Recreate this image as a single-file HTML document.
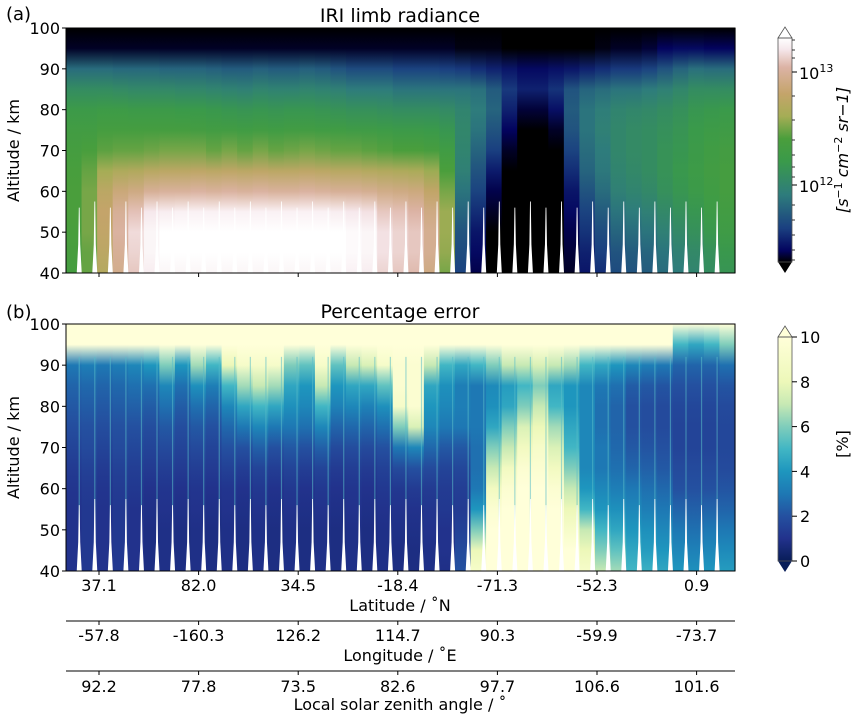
<!DOCTYPE html>
<html><head><meta charset="utf-8"><style>
body{margin:0;background:#fff;font-family:"Liberation Sans","DejaVu Sans",sans-serif;}
svg text{font-family:"DejaVu Sans","Liberation Sans",sans-serif;fill:#000;}
</style></head><body>
<svg id="fig" width="859" height="721" viewBox="0 0 859 721" xmlns="http://www.w3.org/2000/svg">
<defs id="defs"></defs>
<g id="pa"></g>
<g id="pb"></g>
<g id="ax"></g>
</svg>
<script>
const NS="http://www.w3.org/2000/svg";
const altStops=[40,45,50,55,60,65,70,75,80,85,90,95,100];
const latLabels=["37.1","82.0","34.5","-18.4","-71.3","-52.3","0.9"];
const lonLabels=["-57.8","-160.3","126.2","114.7","90.3","-59.9","-73.7"];
const szaLabels=["92.2","77.8","73.5","82.6","97.7","106.6","101.6"];
const yTicks=[40,50,60,70,80,90,100];
const errTicks=[0,2,4,6,8,10];
const radiance=[
[.52,.53,.54,.55,.55,.54,.52,.5,.46,.38,.26,.02,0],
[.58,.58,.6,.6,.6,.58,.54,.5,.46,.38,.26,.02,0],
[.7,.72,.74,.75,.72,.65,.57,.52,.47,.38,.26,.02,0],
[.82,.84,.86,.84,.78,.68,.58,.52,.47,.37,.25,.02,0],
[.9,.92,.93,.89,.8,.69,.58,.52,.46,.36,.25,.02,0],
[.96,.98,.98,.95,.84,.71,.59,.52,.46,.36,.25,.02,0],
[.98,1,1,.96,.85,.72,.6,.52,.46,.36,.24,.02,0],
[.98,1,1,.97,.85,.72,.6,.52,.45,.35,.24,.02,0],
[.98,1,1,.97,.86,.73,.6,.51,.45,.35,.24,.02,0],
[.98,1,1,.97,.85,.72,.58,.5,.44,.34,.23,.02,0],
[.98,1,1,.97,.86,.73,.6,.5,.43,.33,.22,.02,0],
[.98,1,1,.97,.85,.72,.58,.49,.42,.32,.22,.02,0],
[.98,1,1,.97,.86,.73,.6,.5,.43,.34,.23,.02,0],
[.98,1,1,.97,.85,.72,.58,.49,.42,.33,.22,.02,0],
[.98,1,1,.97,.85,.72,.59,.5,.43,.33,.22,.02,0],
[.98,1,1,.97,.86,.73,.6,.5,.43,.34,.23,.02,0],
[.98,1,1,.97,.85,.72,.59,.49,.42,.33,.22,.02,0],
[.98,1,1,.96,.84,.71,.58,.49,.41,.32,.2,.02,0],
[.97,.99,.99,.95,.84,.71,.58,.48,.4,.3,.18,.02,0],
[.96,.98,.98,.94,.83,.7,.57,.48,.4,.3,.18,.02,0],
[.92,.94,.94,.9,.81,.69,.56,.47,.39,.3,.18,.02,0],
[.9,.92,.92,.89,.8,.68,.55,.46,.38,.28,.16,.02,0],
[.88,.9,.9,.87,.79,.67,.55,.46,.38,.28,.16,.02,0],
[.8,.83,.83,.8,.74,.64,.53,.45,.38,.28,.16,.02,0],
[.6,.63,.64,.64,.6,.55,.49,.43,.37,.28,.15,.02,0],
[.16,.18,.2,.24,.28,.32,.34,.35,.34,.28,.14,.01,0],
[.04,.06,.08,.12,.16,.2,.24,.28,.3,.27,.12,.01,0],
[0,0,0,.02,.04,.09,.15,.2,.24,.22,.1,.01,0],
[0,0,0,0,0,0,.02,.05,.1,.14,.08,0,0],
[0,0,0,0,0,0,0,0,.03,.1,.06,0,0],
[0,0,0,0,0,0,0,0,.03,.1,.06,0,0],
[0,0,0,0,0,0,0,.02,.07,.13,.07,0,0],
[.02,.03,.04,.06,.08,.12,.16,.2,.22,.2,.08,0,0],
[.08,.1,.13,.16,.2,.24,.26,.28,.28,.24,.1,0,0],
[.12,.15,.18,.22,.26,.29,.3,.32,.31,.26,.12,.01,0],
[.18,.2,.24,.28,.32,.34,.35,.35,.34,.28,.14,.02,0],
[.2,.22,.26,.3,.34,.36,.37,.37,.35,.28,.14,.02,0],
[.22,.24,.28,.32,.36,.38,.38,.38,.36,.3,.16,.03,0],
[.26,.28,.32,.36,.4,.41,.41,.4,.38,.32,.2,.05,0],
[.3,.32,.36,.4,.43,.44,.43,.42,.4,.35,.24,.06,0],
[.34,.36,.4,.43,.46,.47,.46,.45,.43,.38,.27,.06,0],
[.38,.4,.44,.47,.49,.5,.49,.47,.44,.38,.26,.05,0],
[.42,.44,.48,.5,.52,.52,.51,.48,.45,.38,.26,.05,0]];
const pctError=[
[1,1,1,1,1.1,1.3,1.6,1.9,2.2,2.5,3,10,10],
[1.2,1.2,1.2,1.2,1.3,1.5,1.8,2,2.3,2.6,3.2,10,10],
[1,1,1,1,1.1,1.3,1.6,1.9,2.2,2.5,3,10,10],
[1.2,1.2,1.2,1.2,1.3,1.5,1.8,2,2.3,2.6,3.2,10,10],
[1,1,1,1,1.2,1.4,1.7,2,2.4,2.8,3.5,10,10],
[.8,.8,.8,.9,1,1.3,1.6,1.9,2.3,2.8,4,10,10],
[.9,.9,.9,1,1.1,1.4,1.8,2.2,2.8,3.5,6,10,10],
[.8,.8,.8,.9,1,1.3,1.6,1.9,2.3,2.8,4,10,10],
[.9,.9,.9,1,1.1,1.4,1.8,2.2,2.8,3.8,6.5,10,10],
[.8,.8,.8,.9,1,1.3,1.6,2,2.5,3.2,5,10,10],
[.9,.9,.9,1,1.1,1.5,2,2.6,3.5,5,8,10,10],
[.8,.8,.8,.9,1,1.4,2,3,4.5,6.5,9,10,10],
[.9,.9,.9,1,1.2,1.6,2.4,3.5,5,7,9,10,10],
[.8,.8,.8,.9,1,1.4,2,3,4.5,6.5,9,10,10],
[.9,.9,.9,1,1.2,1.6,2.2,3,3.8,4.5,6,10,10],
[.8,.8,.8,.9,1,1.4,2,2.8,3.5,4,5.5,10,10],
[.9,.9,.9,1,1.2,1.6,2.4,3.5,5,7,9,10,10],
[.8,.8,.8,.9,1,1.3,1.8,2.5,3.3,4,5.5,10,10],
[.9,.9,.9,1,1.1,1.4,1.9,2.6,3.5,4.5,7,10,10],
[.8,.8,.8,.9,1,1.3,1.8,2.5,3.3,4.5,7.5,10,10],
[.9,.9,.9,1,1.2,1.5,2,2.8,3.8,5.5,9,10,10],
[.8,.8,.9,1,1.2,1.8,3,6,9,9.5,9.5,10,10],
[.8,.8,.9,1,1.3,2,3.5,7.5,9.5,9.5,9.5,10,10],
[.9,.9,1,1.1,1.3,1.8,2.6,3.5,4,4.5,7,10,10],
[.9,1,1,1.2,1.3,1.6,2.2,3,3.5,3.8,5,10,10],
[2,1.8,1.5,1.3,1.4,1.7,2.2,3,3.2,3.2,4.5,10,10],
[9,8,6,4,3,2.8,2.8,3,3,3,5,10,10],
[10,10,10,9.5,8.5,7,6,4.5,3.8,3.6,6,10,10],
[10,10,10,10,9.5,8.5,7,6,4.5,4.2,7,10,10],
[10,10,10,10,10,9.5,8.5,7.5,6,5,7,10,10],
[10,10,10,10,10,9.5,9,8,7,6,7.5,10,10],
[10,10,10,10,9.5,8.5,7.5,6.5,5,4.5,7,10,10],
[10,10,9,8,7,6,5,4.5,4,4,6.5,10,10],
[9,8,7,5,4,3.5,3.5,3.5,3.5,3.5,5,10,10],
[7,6,5,4,3.5,3,3,2.8,2.8,3,4.5,10,10],
[6.5,5.5,4.5,3.8,3.2,2.8,2.6,2.5,2.5,2.8,4,10,10],
[5,4.5,4,3.5,3,2.5,2.2,2,2,2.3,3.5,10,10],
[4.8,4.2,3.8,3.2,2.8,2.4,2.1,1.9,1.9,2.2,3.2,10,10],
[4.5,4,3.5,3,2.6,2.2,2,1.8,1.8,2.1,3,10,10],
[4,3.5,3,2.5,2,1.8,1.6,1.6,1.7,2,2.5,5,10],
[3.8,3.3,2.8,2.4,2,1.8,1.6,1.6,1.7,2,2.5,4.5,10],
[4,3.5,3,2.5,2,1.8,1.6,1.6,1.7,2,2.5,5,10],
[4.2,3.6,3,2.5,2.1,1.8,1.7,1.7,1.8,2.1,2.8,6,10]];
const spikeTops=[56,57.5,56,57.5,56,57.5,56,57.5,56,57.5,56,57.5,56,57.5,56,57.5,56,57.5,56,57.5,56,57.5,56,57.5,56,57.5,56,57.5,56,57.5,56,57.5,56,57.5,56,57.5,56,57.5,56,57.5,56,57.5];

const earth=[[0,[0,0,0]],[.05,[3,3,94]],[.15,[26,63,128]],[.3,[46,124,124]],[.45,[58,154,74]],[.55,[74,158,60]],[.65,[165,173,85]],[.75,[196,164,106]],[.87,[220,179,165]],[.95,[246,232,236]],[1,[255,255,255]]];
const ylgnbu=[[0,[8,29,88]],[.1,[34,50,140]],[.2,[36,80,160]],[.3,[30,120,180]],[.4,[30,150,190]],[.5,[65,182,196]],[.6,[127,205,187]],[.7,[199,233,180]],[.8,[237,248,185]],[1,[255,255,217]]];
function cmap(m,t){t=Math.max(0,Math.min(1,t));for(let i=1;i<m.length;i++){if(t<=m[i][0]){const a=m[i-1],b=m[i],f=(t-a[0])/(b[0]-a[0]);return "rgb("+a[1].map((v,k)=>Math.round(v+(b[1][k]-v)*f)).join(",")+")";}}return "rgb(255,255,255)";}
function el(tag,attrs,parent,txt){const e=document.createElementNS(NS,tag);for(const k in attrs)e.setAttribute(k,attrs[k]);if(txt!==undefined)e.textContent=txt;(parent||document.getElementById('ax')).appendChild(e);return e;}
const X0=66,X1=735;
const panels=[{top:28,bot:273,data:radiance,map:earth,norm:v=>v,g:'pa',id:'ga',streak:null},{top:324,bot:571,data:pctError,map:ylgnbu,norm:v=>v/10,g:'pb',id:'gb',streak:'rgba(90,190,200,0.55)'}];
const defs=document.getElementById('defs');
panels.forEach(p=>{
  const y=a=>p.bot-(a-40)/60*(p.bot-p.top);
  const n=p.data.length,w=(X1-X0)/n,g=document.getElementById(p.g);
  p.data.forEach((col,i)=>{
    const gid=p.id+i;
    const lg=el('linearGradient',{id:gid,x1:0,y1:1,x2:0,y2:0},defs);
    col.forEach((v,j)=>el('stop',{offset:(j/(altStops.length-1)),'stop-color':cmap(p.map,p.norm(v))},lg));
    const r=el('rect',{x:X0+i*w,y:y(100),width:w+0.6,height:y(40)-y(100),fill:'url(#'+gid+')'},g);
    
    
  });
  if(p.streak){spikeTops.forEach((t,i)=>{const cx=X0+(i+0.85)*w;el('line',{x1:cx,x2:cx,y1:y(40),y2:y(92),stroke:p.streak,'stroke-width':1.2},g);});}
  spikeTops.forEach((t,i)=>{
    const cx=X0+(i+0.85)*w;
    const s=el('polygon',{points:(cx-2.5)+","+y(40)+" "+(cx+2.5)+","+y(40)+" "+(cx+1)+","+y(47)+" "+(cx+0.4)+","+y(t)+" "+(cx-0.4)+","+y(t)+" "+(cx-1)+","+y(47),fill:'#fff'},g);
    
    
  });
  el('rect',{x:X0,y:p.top,width:X1-X0,height:p.bot-p.top,fill:'none',stroke:'#000','stroke-width':1});
  yTicks.forEach(a=>{el('line',{x1:X0-4,x2:X0,y1:y(a),y2:y(a),stroke:'#000'});const t=el('text',{x:X0-6,y:y(a)+6,'text-anchor':'end','font-size':16},null,a);});
  latLabels.forEach((l,i)=>{const x=X0+33+i*99.6;el('line',{x1:x,x2:x,y1:p.bot,y2:p.bot+4,stroke:'#000'});});
  const yt=el('text',{x:19,y:(p.top+p.bot)/2,'text-anchor':'middle','font-size':16,transform:'rotate(-90 19 '+(p.top+p.bot)/2+')'},null,'Altitude / km');
  
});
latLabels.forEach((l,i)=>{const x=X0+33+i*99.6;el('text',{x:x,y:591,'text-anchor':'middle','font-size':16},null,l);
 el('line',{x1:x,x2:x,y1:621,y2:625,stroke:'#000'});el('text',{x:x,y:641,'text-anchor':'middle','font-size':16},null,lonLabels[i]);
 el('line',{x1:x,x2:x,y1:671,y2:675,stroke:'#000'});el('text',{x:x,y:692,'text-anchor':'middle','font-size':16},null,szaLabels[i]);});
el('line',{x1:X0,x2:X1,y1:621,y2:621,stroke:'#000'});
el('line',{x1:X0,x2:X1,y1:671,y2:671,stroke:'#000'});
el('text',{x:400,y:611,'text-anchor':'middle','font-size':16},null,'Latitude / ˚N');
el('text',{x:400,y:661,'text-anchor':'middle','font-size':16},null,'Longitude / ˚E');
el('text',{x:400,y:710,'text-anchor':'middle','font-size':16},null,'Local solar zenith angle / ˚');
el('text',{x:400,y:22,'text-anchor':'middle','font-size':19},null,'IRI limb radiance');
el('text',{x:400,y:318,'text-anchor':'middle','font-size':19},null,'Percentage error');
el('text',{x:6,y:20,'font-size':18},null,'(a)');
el('text',{x:6,y:318,'font-size':18},null,'(b)');
const cga=el('linearGradient',{id:'cba',x1:0,y1:1,x2:0,y2:0},defs);
earth.forEach(s=>el('stop',{offset:s[0],'stop-color':cmap(earth,s[0])},cga));
el('rect',{x:778,y:38,width:14,height:224,fill:'url(#cba)'});
el('polygon',{points:'778,38 792,38 785,27',fill:'#fff',stroke:'#555','stroke-width':0.8});
el('polygon',{points:'778,262 792,262 785,273',fill:'#000'});
el('rect',{x:778,y:38,width:14,height:224,fill:'none',stroke:'#555','stroke-width':0.8});
[[72,'13'],[185,'12']].forEach(d=>{el('line',{x1:792,x2:797,y1:d[0],y2:d[0],stroke:'#000'});const t=el('text',{x:799,y:d[0]+7,'font-size':16},null,'10');el('tspan',{dy:-7,'font-size':11},t,d[1]);});
[40,50,58,96,120,140,155,167,177,205,220,235,250,260].forEach(v=>el('line',{x1:792,x2:795,y1:v,y2:v,stroke:'#000','stroke-width':0.8}));
const la=el('text',{x:848,y:150,'text-anchor':'middle','font-size':16,'font-style':'italic',transform:'rotate(-90 848 150)'},null,'');

la.innerHTML='[s<tspan dy="-6" font-size="11" font-style="normal">−1</tspan><tspan dy="6"> cm</tspan><tspan dy="-6" font-size="11" font-style="normal">−2</tspan><tspan dy="6"> sr−1]</tspan>';
const cgb=el('linearGradient',{id:'cbb',x1:0,y1:1,x2:0,y2:0},defs);
ylgnbu.forEach(s=>el('stop',{offset:s[0],'stop-color':cmap(ylgnbu,s[0])},cgb));
el('rect',{x:778,y:337,width:14,height:224,fill:'url(#cbb)'});
el('polygon',{points:'778,337 792,337 785,326',fill:'rgb(255,255,217)',stroke:'#555','stroke-width':0.8});
el('polygon',{points:'778,561 792,561 785,572',fill:'rgb(8,29,88)'});
el('rect',{x:778,y:337,width:14,height:224,fill:'none',stroke:'#555','stroke-width':0.8});
errTicks.forEach(v=>{const yy=561-v/10*224;el('line',{x1:792,x2:797,y1:yy,y2:yy,stroke:'#000'});el('text',{x:800,y:yy+6,'font-size':16},null,v);});
el('text',{x:848,y:444,'text-anchor':'middle','font-size':16,transform:'rotate(-90 848 444)'},null,'[%]');
</script>
</body></html>
